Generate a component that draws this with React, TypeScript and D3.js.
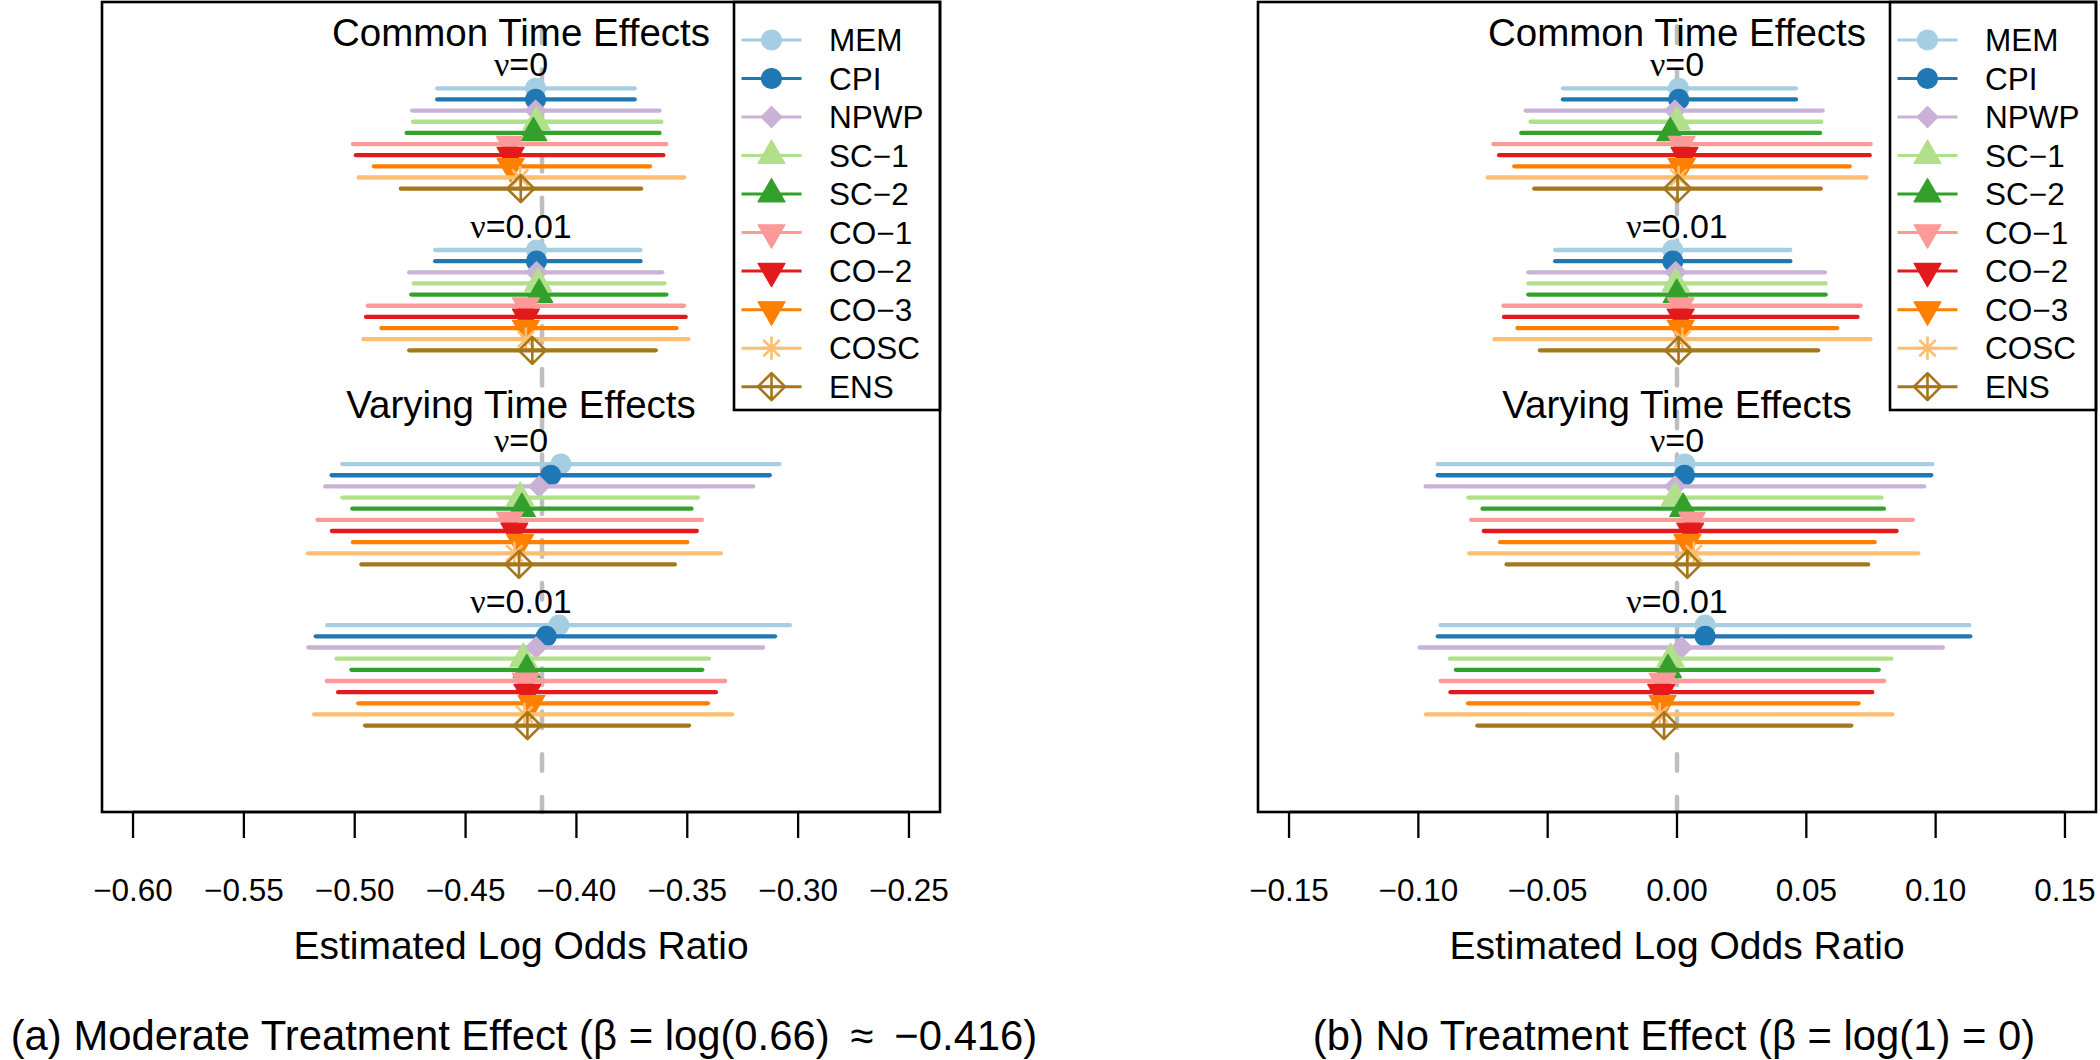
import * as d3 from 'd3';

const methods = ['MEM', 'CPI', 'NPWP', 'SC\u22121', 'SC\u22122', 'CO\u22121', 'CO\u22122', 'CO\u22123', 'COSC', 'ENS'];
const methodColors = ['#A6CEE3', '#1F78B4', '#CAB2D6', '#B2DF8A', '#33A02C', '#FB9A99', '#E31A1C', '#FF7F00', '#FDBF6F', '#A6761D'];
const methodShapes = ['circle', 'circle', 'diamond', 'up', 'up', 'down', 'down', 'down', 'star', 'diamondPlus'];

// row position (in method-row units) of the first method of each block
const groupRows = [0, 14.5, 33.7, 48.15];
const groupLabels = ['\u03bd=0', '\u03bd=0.01', '\u03bd=0', '\u03bd=0.01'];
const sectionTitles = ['Common Time Effects', 'Varying Time Effects'];
const sectionTitleRows = [-3.8, 29.6];

// [lower, estimate, upper] for each method
const modCommon0 = [
  [-0.4628, -0.4184, -0.3737], [-0.4628, -0.4184, -0.3737], [-0.4741, -0.4184, -0.3625],
  [-0.4737, -0.418, -0.3617], [-0.4766, -0.4194, -0.3625], [-0.5008, -0.4301, -0.3594],
  [-0.4995, -0.4297, -0.3608], [-0.4914, -0.4297, -0.3668], [-0.4982, -0.4254, -0.3514],
  [-0.4792, -0.4251, -0.3708],
];
const modCommon001 = [
  [-0.4637, -0.418, -0.3711], [-0.4637, -0.418, -0.3711], [-0.4754, -0.418, -0.3613],
  [-0.4734, -0.4173, -0.3603], [-0.4745, -0.4168, -0.3594], [-0.4941, -0.4228, -0.3515],
  [-0.4949, -0.4228, -0.3507], [-0.488, -0.4228, -0.3548], [-0.4961, -0.4228, -0.3495],
  [-0.4754, -0.4199, -0.3642],
];
const modVarying0 = [
  [-0.5056, -0.407, -0.3084], [-0.5104, -0.4116, -0.3128], [-0.5133, -0.4168, -0.3203],
  [-0.5056, -0.4254, -0.3452], [-0.5011, -0.4246, -0.3481], [-0.5168, -0.4301, -0.3434],
  [-0.5103, -0.428, -0.3457], [-0.5008, -0.4254, -0.35], [-0.5211, -0.428, -0.3349],
  [-0.497, -0.4259, -0.3556],
];
const modVarying001 = [
  [-0.5124, -0.4079, -0.3037], [-0.5176, -0.4136, -0.3104], [-0.5209, -0.4182, -0.3158],
  [-0.5082, -0.424, -0.3402], [-0.5015, -0.4224, -0.3432], [-0.5126, -0.4229, -0.3329],
  [-0.5075, -0.4221, -0.3371], [-0.4984, -0.4203, -0.3407], [-0.5183, -0.4234, -0.3298],
  [-0.4953, -0.4221, -0.3492],
];

const nullCommon0 = [
  [-0.0441, 0.0006, 0.046], [-0.0441, 0.0007, 0.046], [-0.0585, -0.0008, 0.0563],
  [-0.0566, -0.0001, 0.0558], [-0.0602, -0.0026, 0.0553], [-0.071, 0.0018, 0.0749],
  [-0.0688, 0.0029, 0.0745], [-0.0629, 0.0018, 0.0668], [-0.0732, 0.0006, 0.0732],
  [-0.0552, 0.0002, 0.0556],
];
const nullCommon001 = [
  [-0.0471, -0.0016, 0.0438], [-0.0471, -0.0016, 0.0438], [-0.0575, -0.0005, 0.0572],
  [-0.0575, -0.0005, 0.0575], [-0.0575, -0.0001, 0.0575], [-0.0671, 0.0014, 0.071],
  [-0.0669, 0.0014, 0.0698], [-0.0617, 0.0014, 0.062], [-0.0706, 0.0021, 0.0748],
  [-0.053, 0.0006, 0.0546],
];
const nullVarying0 = [
  [-0.0925, 0.0031, 0.0987], [-0.0925, 0.0029, 0.0983], [-0.0972, -0.0008, 0.0956],
  [-0.0807, -0.0008, 0.0791], [-0.0752, 0.0024, 0.08], [-0.0796, 0.0058, 0.0912],
  [-0.0747, 0.0051, 0.0849], [-0.0684, 0.004, 0.0764], [-0.0803, 0.0065, 0.0933],
  [-0.0659, 0.004, 0.0739],
];
const nullVarying001 = [
  [-0.0914, 0.0109, 0.113], [-0.0925, 0.0109, 0.1134], [-0.0995, 0.0018, 0.1028],
  [-0.0878, -0.0025, 0.0829], [-0.0855, -0.0035, 0.078], [-0.0914, -0.0056, 0.0801],
  [-0.0876, -0.0061, 0.0755], [-0.0808, -0.0056, 0.0702], [-0.0971, -0.0067, 0.0833],
  [-0.0772, -0.005, 0.0674],
];

const modTicks = [-0.6, -0.55, -0.5, -0.45, -0.4, -0.35, -0.3, -0.25];
const nullTicks = [-0.15, -0.1, -0.05, 0, 0.05, 0.1, 0.15];
const modXlim = [-0.6, -0.25];
const nullXlim = [-0.15, 0.15];
const modTruth = Math.log(0.66);
const nullTruth = 0;
const xTitle = 'Estimated Log Odds Ratio';
const captions = [
  '(a) Moderate Treatment Effect (\u03b2 = log(0.66)\u2002\u2248\u2002\u22120.416)',
  '(b) No Treatment Effect (\u03b2 = log(1) = 0)',
];

const W = 2100;
const H = 1060;
const FONT = '"Liberation Sans", Arial, Helvetica, sans-serif';
const plotTop = 2;
const plotBottom = 812;
const panelX = [[102, 940], [1258, 2096]];
const captionX = [524, 1674];
const S = 10;

const yScale = d3.scaleLinear().domain([-7.74, 64.9]).range([plotTop, plotBottom]);

function markerPath(shape: string): string {
  const p = d3.path();
  if (shape === 'circle') {
    p.arc(0, 0, S, 0, 2 * Math.PI);
  } else if (shape === 'diamond') {
    const r = S * 1.05;
    p.moveTo(0, -r); p.lineTo(r, 0); p.lineTo(0, r); p.lineTo(-r, 0); p.closePath();
  } else if (shape === 'up') {
    p.moveTo(0, -1.555 * S); p.lineTo(1.3468 * S, 0.7776 * S); p.lineTo(-1.3468 * S, 0.7776 * S); p.closePath();
  } else if (shape === 'down') {
    p.moveTo(0, 1.555 * S); p.lineTo(1.3468 * S, -0.7776 * S); p.lineTo(-1.3468 * S, -0.7776 * S); p.closePath();
  } else if (shape === 'star') {
    const a = 0.82 * S;
    const b = 1.16 * S;
    p.moveTo(-a, -a); p.lineTo(a, a); p.moveTo(-a, a); p.lineTo(a, -a);
    p.moveTo(-b, 0); p.lineTo(b, 0); p.moveTo(0, -b); p.lineTo(0, b);
  } else {
    const r = 1.35 * S;
    p.moveTo(0, -r); p.lineTo(r, 0); p.lineTo(0, r); p.lineTo(-r, 0); p.closePath();
    p.moveTo(-r, 0); p.lineTo(r, 0); p.moveTo(0, -r); p.lineTo(0, r);
  }
  return p.toString();
}

function Marker({ i, x, y }: { i: number; x: number; y: number }) {
  const shape = methodShapes[i];
  const col = methodColors[i];
  const open = shape === 'star' || shape === 'diamondPlus';
  return (
    <path
      d={markerPath(shape)}
      transform={`translate(${x},${y})`}
      fill={open ? 'none' : col}
      stroke={col}
      strokeWidth={open ? 2.6 : 1.2}
      strokeLinejoin="round"
    />
  );
}

function NuLabel({ text, x, y }: { text: string; x: number; y: number }) {
  return (
    <text x={x} y={y} textAnchor="middle" fontSize={34} fontFamily={FONT}>
      <tspan fontFamily='"Liberation Serif", "DejaVu Serif", serif'>{text.slice(0, 1)}</tspan>
      {text.slice(1)}
    </text>
  );
}

function Panel({ idx, groups, xlim, ticks, truth, caption }: {
  idx: number; groups: number[][][]; xlim: number[]; ticks: number[]; truth: number; caption: string;
}) {
  const [x0, x1] = panelX[idx];
  const ext = (xlim[1] - xlim[0]) * 0.04;
  const x = d3.scaleLinear().domain([xlim[0] - ext, xlim[1] + ext]).range([x0, x1]);
  const cx = (x0 + x1) / 2;
  const fmt = (v: number) => d3.format('.2f')(v).replace('-', '\u2212');
  const legW = 206;
  const legX = x1 - legW;
  const legRow = 38.52;

  return (
    <g>
      {/* reference line */}
      <line x1={x(truth)} x2={x(truth)} y1={plotTop} y2={plotBottom}
        stroke="#BEBEBE" strokeWidth={4.5} strokeDasharray="16.5 26.3" strokeDashoffset={18.2}
        strokeLinecap="round" />

      {sectionTitles.map((t, k) => (
        <text key={t} x={cx} y={yScale(sectionTitleRows[k])} textAnchor="middle"
          fontSize={38.5} fontFamily={FONT}>{t}</text>
      ))}
      {groupLabels.map((t, g) => (
        <NuLabel key={g} text={t} x={cx} y={yScale(groupRows[g] - 1.1)} />
      ))}

      {groups.map((rows, g) => (
        <g key={g}>
          {rows.map((r, i) => {
            const y = yScale(groupRows[g] + i);
            return (
              <g key={i}>
                <line x1={x(r[0])} x2={x(r[2])} y1={y} y2={y} stroke={methodColors[i]}
                  strokeWidth={4.3} strokeLinecap="round" />
                <Marker i={i} x={x(r[1])} y={y} />
              </g>
            );
          })}
        </g>
      ))}

      {/* legend */}
      <rect x={legX} y={plotTop} width={legW} height={408} fill="#fff" stroke="#000" strokeWidth={2.6} />
      {methods.map((m, i) => {
        const y = 40 + i * legRow;
        return (
          <g key={m}>
            <line x1={legX + 7.5} x2={legX + 67.5} y1={y} y2={y} stroke={methodColors[i]} strokeWidth={3} />
            <Marker i={i} x={legX + 37.5} y={y} />
            <text x={legX + 95} y={y + 11.3} fontSize={31.5} fontFamily={FONT}>{m}</text>
          </g>
        );
      })}

      {/* box and axis */}
      <rect x={x0} y={plotTop} width={x1 - x0} height={plotBottom - plotTop} fill="none" stroke="#000" strokeWidth={2.6} />
      <line x1={x(ticks[0])} x2={x(ticks[ticks.length - 1])} y1={plotBottom} y2={plotBottom} stroke="#000" strokeWidth={2.6} />
      {ticks.map((t) => (
        <g key={t}>
          <line x1={x(t)} x2={x(t)} y1={plotBottom} y2={plotBottom + 26} stroke="#000" strokeWidth={2.3} />
          <text x={x(t)} y={901} textAnchor="middle" fontSize={31.5} fontFamily={FONT}>{fmt(t)}</text>
        </g>
      ))}
      <text x={cx} y={959} textAnchor="middle" fontSize={39} fontFamily={FONT}>{xTitle}</text>
      <text x={captionX[idx]} y={1050} textAnchor="middle" fontSize={41.8} fontFamily={FONT}>{caption}</text>
    </g>
  );
}

export default function App() {
  return (
    <svg width={W} height={H} viewBox={`0 0 ${W} ${H}`}
      style={{ position: 'absolute', left: 0, top: 0, background: '#fff', display: 'block' }}>
      <rect width={W} height={H} fill="#fff" />
      <Panel idx={0} groups={[modCommon0, modCommon001, modVarying0, modVarying001]}
        xlim={modXlim} ticks={modTicks} truth={modTruth} caption={captions[0]} />
      <Panel idx={1} groups={[nullCommon0, nullCommon001, nullVarying0, nullVarying001]}
        xlim={nullXlim} ticks={nullTicks} truth={nullTruth} caption={captions[1]} />
    </svg>
  );
}
